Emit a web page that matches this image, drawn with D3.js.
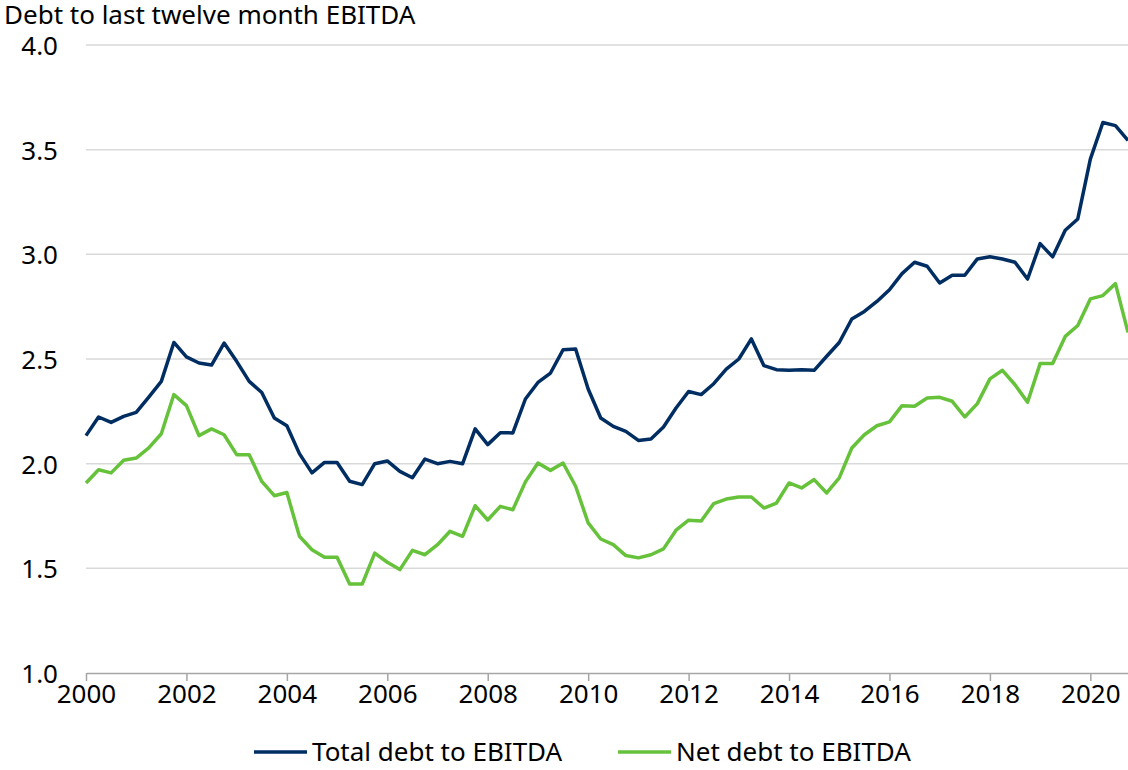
<!DOCTYPE html>
<html><head><meta charset="utf-8">
<script src="https://cdn.jsdelivr.net/npm/d3@7"></script>
<style>body{margin:0;background:#fff}svg{display:block}text{font-family:"Noto Sans",sans-serif;fill:#000}</style>
</head><body><svg id="c" width="1128" height="770"></svg>
<script>
const startYear = 2000;
const quarterStep = 0.25;
const totalDebt = [2.134,2.223,2.197,2.226,2.245,2.318,2.393,2.579,2.51,2.481,2.471,2.576,2.489,2.393,2.34,2.218,2.181,2.048,1.956,2.006,2.006,1.916,1.9,2.0,2.013,1.963,1.933,2.022,2.0,2.011,2.0,2.166,2.091,2.148,2.147,2.309,2.388,2.433,2.544,2.548,2.357,2.218,2.178,2.154,2.111,2.118,2.175,2.266,2.345,2.33,2.382,2.452,2.5,2.596,2.468,2.449,2.446,2.449,2.446,2.513,2.579,2.691,2.727,2.775,2.831,2.908,2.962,2.943,2.863,2.9,2.9,2.978,2.988,2.978,2.962,2.882,3.051,2.988,3.115,3.169,3.455,3.63,3.615,3.544];
const netDebt = [1.908,1.971,1.956,2.016,2.027,2.075,2.143,2.33,2.277,2.134,2.166,2.138,2.043,2.043,1.915,1.847,1.862,1.653,1.589,1.553,1.553,1.425,1.425,1.573,1.529,1.494,1.586,1.565,1.613,1.677,1.653,1.799,1.731,1.796,1.78,1.913,2.003,1.968,2.003,1.892,1.717,1.64,1.613,1.561,1.55,1.565,1.593,1.682,1.73,1.726,1.809,1.831,1.841,1.841,1.788,1.812,1.908,1.884,1.924,1.86,1.932,2.075,2.138,2.181,2.2,2.277,2.274,2.314,2.317,2.298,2.223,2.287,2.405,2.446,2.377,2.293,2.478,2.478,2.608,2.66,2.787,2.803,2.86,2.627];
const yTicks = [1.0,1.5,2.0,2.5,3.0,3.5,4.0];
const xTicks = [2000,2002,2004,2006,2008,2010,2012,2014,2016,2018,2020];
const seriesNames = ["Total debt to EBITDA","Net debt to EBITDA"];
const yTitle = "Debt to last twelve month EBITDA";

const FS = 26;
const svg = d3.select("#c");
const x = d3.scaleLinear().domain([2000, 2020.75]).range([86, 1128]);
const y = d3.scaleLinear().domain([1, 4]).range([673, 45]);
const colors = ["#002d62", "#66c23a"];

// gridlines
svg.append("g").selectAll("line").data(yTicks.slice(1)).join("line")
  .attr("x1", 86).attr("x2", 1128).attr("y1", d => y(d)).attr("y2", d => y(d))
  .attr("stroke", "#d9d9d9").attr("stroke-width", 1.5);

// y labels
svg.append("g").selectAll("text").data(yTicks).join("text")
  .attr("x", 58).attr("y", d => y(d) + 1).attr("dy", "0.35em")
  .attr("text-anchor", "end").attr("font-size", FS)
  .text(d => d.toFixed(1));

// x axis
const xa = svg.append("g").attr("transform", "translate(0,673)")
  .call(d3.axisBottom(x).tickValues(xTicks).tickFormat(d3.format("d")).tickSize(8).tickPadding(4).tickSizeOuter(0));
xa.select(".domain").attr("stroke", "#a6a6a6").attr("stroke-width", 1.5);
xa.selectAll(".tick line").attr("stroke", "#a6a6a6").attr("stroke-width", 1.5);
xa.selectAll(".tick text").attr("font-size", FS).attr("font-family", "Noto Sans").attr("fill", "#000");

// lines
const line = d3.line().x((d, i) => x(startYear + i * quarterStep)).y(d => y(d));
[totalDebt, netDebt].forEach((s, i) => {
  svg.append("path").datum(s).attr("d", line).attr("fill", "none")
    .attr("stroke", colors[i]).attr("stroke-width", 3.5).attr("stroke-linejoin", "round");
});

// title
svg.append("text").attr("x", 4).attr("y", 24).attr("font-size", FS).text(yTitle);

// legend
const leg = [{x: 254, tx: 312, t: seriesNames[0], c: colors[0]}, {x: 618, tx: 676, t: seriesNames[1], c: colors[1]}];
leg.forEach(l => {
  svg.append("line").attr("x1", l.x).attr("x2", l.x + 53).attr("y1", 752).attr("y2", 752)
    .attr("stroke", l.c).attr("stroke-width", 3.5);
  svg.append("text").attr("x", l.tx).attr("y", 752).attr("dy", "0.35em").attr("font-size", FS).text(l.t);
});
</script></body></html>
